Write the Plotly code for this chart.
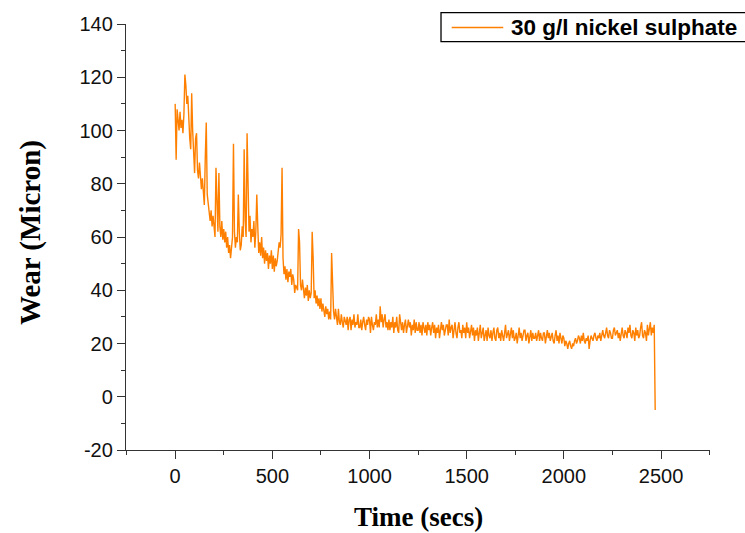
import plotly.graph_objects as go

# Wear test record: one reading every 5 s, last reading is the probe lift-off
time_start = 0
time_step = 5
wear_um = [
    110, 89, 108, 104, 100, 107, 101, 104, 99, 106,
    121, 117, 110, 113, 100, 97, 93, 114, 100, 90,
    84, 97, 99, 85, 82, 88, 80, 78, 82, 74,
    72, 90, 103, 76, 72, 68, 66, 70, 64, 68,
    62, 60, 86, 70, 62, 84, 64, 60, 66, 59,
    63, 58, 62, 56, 60, 54, 57, 52, 55, 60,
    95, 62, 56, 60, 58, 76, 62, 55, 57, 64,
    60, 93, 66, 60, 99, 80, 62, 68, 58, 63,
    60, 66, 56, 62, 76, 64, 54, 58, 53, 60,
    52, 56, 50, 55, 51, 54, 48, 53, 50, 55,
    48, 53, 47, 52, 49, 51, 54, 58, 56, 61,
    86, 52, 46, 49, 44, 48, 43, 47, 45, 48,
    42, 46, 44, 39, 42, 41, 40, 63, 58, 42,
    40, 44, 41, 37, 41, 38, 42, 36, 40, 37,
    39, 62, 52, 37, 40, 35, 38, 34, 37, 33,
    37, 32, 35, 33, 30, 34, 31, 33, 29, 32,
    29, 54, 42, 32, 29, 33, 30, 27, 33, 28,
    27, 31, 28, 26, 30, 28, 27, 30, 25, 29,
    30, 25, 29, 27, 31, 26, 28, 27, 31, 26,
    26, 29, 25, 28, 30, 27, 25, 29, 27, 30,
    29, 24, 30, 27, 25, 28, 27, 31, 26, 29,
    26, 34, 28, 31, 26, 29, 31, 26, 28, 25,
    29, 25, 28, 26, 30, 24, 28, 26, 30, 25,
    24, 31, 27, 25, 28, 24, 27, 29, 24, 26,
    29, 26, 28, 23, 27, 25, 29, 24, 28, 25,
    25, 28, 24, 27, 23, 28, 26, 24, 27, 23,
    28, 25, 27, 23, 26, 28, 24, 27, 22, 26,
    24, 27, 22, 26, 28, 25, 27, 23, 25, 27,
    27, 23, 29, 24, 26, 27, 22, 25, 28, 24,
    22, 26, 28, 24, 25, 22, 27, 24, 26, 22,
    28, 24, 26, 22, 25, 27, 23, 26, 21, 25,
    23, 26, 21, 25, 27, 22, 24, 26, 21, 24,
    25, 21, 26, 23, 22, 25, 21, 24, 26, 22,
    21, 25, 26, 22, 24, 21, 25, 23, 21, 24,
    27, 22, 24, 25, 21, 24, 26, 22, 25, 21,
    22, 24, 20, 23, 26, 22, 24, 21, 23, 25,
    25, 21, 23, 24, 20, 23, 25, 21, 24, 22,
    22, 24, 21, 23, 25, 21, 24, 22, 21, 24,
    24, 20, 23, 25, 22, 24, 21, 23, 24, 21,
    20, 23, 25, 21, 23, 20, 24, 22, 20, 23,
    22, 19, 21, 20, 18, 20, 21, 19, 18, 20,
    19, 21, 22, 20, 21, 23, 22, 20, 23, 21,
    24, 21, 20, 22, 21, 23, 18, 21, 23, 22,
    21, 23, 24, 22, 21, 23, 22, 24, 21, 23,
    25, 23, 22, 24, 26, 23, 22, 25, 24, 22,
    22, 25, 26, 23, 24, 25, 22, 24, 21, 25,
    26, 23, 22, 25, 24, 22, 26, 24, 27, 23,
    22, 25, 24, 21, 26, 23, 25, 22, 23, 26,
    28, 23, 22, 25, 24, 21, 27, 23, 25, 28,
    23, 26, 24, 27, -5,
]
time_s = [time_start + i * time_step for i in range(len(wear_um))]

x_ticks = [0, 500, 1000, 1500, 2000, 2500]
y_ticks = [-20, 0, 20, 40, 60, 80, 100, 120, 140]
x_tick_text = [str(v) for v in x_ticks]
y_tick_text = [str(v) for v in y_ticks]  # plain hyphen for negatives
series_name = "30 g/l nickel sulphate"
line_color = "#FF8000"
axis_color = "#333333"

fig = go.Figure()
fig.add_trace(go.Scatter(
    x=time_s, y=wear_um, mode="lines", name=series_name,
    line=dict(color=line_color, width=1.4), showlegend=False,
))

tick_font = dict(family="Liberation Sans, Arial, sans-serif", size=20, color="#111111")
serif = "Liberation Serif, Times New Roman, serif"

fig.update_xaxes(
    range=[-253, 2752], tickvals=x_ticks, ticktext=x_tick_text, ticks="outside",
    ticklen=8, tickwidth=1.3, tickcolor=axis_color, showline=True,
    linecolor=axis_color, linewidth=1.3, showgrid=False, zeroline=False,
    tickfont=tick_font,
    minor=dict(dtick=250, tick0=0, ticks="outside", ticklen=4, tickwidth=1.3,
               tickcolor=axis_color, showgrid=False),
)
fig.update_yaxes(
    range=[-20, 140], tickvals=y_ticks, ticktext=y_tick_text, ticks="outside",
    ticklen=8, tickwidth=1.3, tickcolor=axis_color, showline=True,
    linecolor=axis_color, linewidth=1.3, showgrid=False, zeroline=False,
    tickfont=tick_font,
    minor=dict(dtick=10, tick0=0, ticks="outside", ticklen=4, tickwidth=1.3,
               tickcolor=axis_color, showgrid=False),
)

# Legend box drawn by hand so it can run past the right edge
fig.add_shape(type="rect", xref="paper", yref="paper",
              x0=0.5394, x1=1.07, y0=0.9585, y1=1.0265,
              line=dict(color="#000000", width=1.3), fillcolor="white", layer="above")
fig.add_shape(type="line", xref="paper", yref="paper",
              x0=0.5577, x1=0.646, y0=0.9918, y1=0.9918,
              line=dict(color=line_color, width=1.5), layer="above")
fig.add_annotation(text="<b>" + series_name + "</b>", xref="paper", yref="paper",
                   x=0.6558, y=0.9918, xanchor="left", yanchor="middle", showarrow=False,
                   font=dict(family="Liberation Sans, Arial, sans-serif", size=22.5, color="#000000"))

# Axis titles
fig.add_annotation(text="<b>Wear (Micron)</b>", xref="paper", yref="paper",
                   x=-0.1644, y=0.5117, textangle=-90, showarrow=False,
                   xanchor="center", yanchor="middle",
                   font=dict(family=serif, size=29, color="#000000"))
fig.add_annotation(text="<b>Time (secs)</b>", xref="paper", yref="paper",
                   x=0.5, y=-0.157, showarrow=False,
                   xanchor="center", yanchor="middle",
                   font=dict(family=serif, size=27, color="#000000"))

fig.update_layout(
    width=745, height=533,
    margin=dict(l=126, r=35, t=24, b=83),
    paper_bgcolor="white", plot_bgcolor="white",
)

fig.write_html("out.html")
